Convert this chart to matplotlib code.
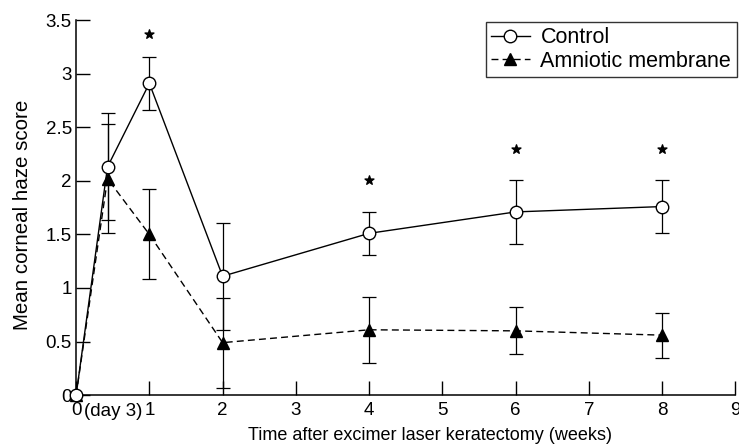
import numpy as np
import matplotlib.pyplot as plt

plt.rcParams['font.family'] = ['Liberation Sans', 'DejaVu Sans']

# weeks after surgery (day 3 = 3/7 week)
weeks = [0, 3 / 7, 1, 2, 4, 6, 8]
control = [0, 2.13, 2.91, 1.11, 1.51, 1.71, 1.76]
control_err = [0, 0.50, 0.25, 0.50, 0.20, 0.30, 0.25]
amnion = [0, 2.02, 1.50, 0.49, 0.61, 0.60, 0.56]
amnion_err = [0, 0.51, 0.42, 0.42, 0.31, 0.22, 0.21]
star_x = [1, 4, 6, 8]
star_y = [3.37, 2.01, 2.30, 2.30]

fig = plt.figure(figsize=(7.39, 4.47), dpi=100)
ax = fig.add_axes([0.103, 0.116, 0.892, 0.839])

ekw = dict(elinewidth=0.9, capsize=5, capthick=0.9, ecolor='black')
ax.errorbar(weeks[1:], amnion[1:], yerr=amnion_err[1:], fmt='none', **ekw)
ax.errorbar(weeks[1:], control[1:], yerr=control_err[1:], fmt='none', **ekw)

ax.plot(weeks, amnion, '--', color='black', lw=1.0, marker='^', ms=9,
        mfc='black', mec='black', dashes=(5, 3), label='Amniotic membrane',
        zorder=3, clip_on=False)
ax.plot(weeks, control, '-', color='black', lw=1.0, marker='o', ms=9,
        mfc='white', mec='black', mew=1.0, label='Control', zorder=4, clip_on=False)

ax.scatter(star_x, star_y, marker='*', s=45, color='black', zorder=5)

ax.set_xlim(0, 9)
ax.set_ylim(0, 3.5)
ax.set_xticks(range(10))
ax.set_yticks(np.arange(0, 3.51, 0.5))
ax.set_yticklabels(['0', '0.5', '1', '1.5', '2', '2.5', '3', '3.5'])
ax.tick_params(direction='in', length=10, width=1.0, labelsize=13.5)
ax.tick_params(axis='y', pad=3)
ax.tick_params(axis='x', pad=5)
for s in ['top', 'right']:
    ax.spines[s].set_visible(False)
for s in ['left', 'bottom']:
    ax.spines[s].set_linewidth(1.1)

ax.text(0.5, -0.022, '(day 3)', ha='center', va='top', fontsize=13.5,
        transform=ax.get_xaxis_transform())

ax.set_xlabel('Time after excimer laser keratectomy (weeks)', fontsize=13)
ax.xaxis.set_label_coords(0.537, -0.085)
ax.set_ylabel('Mean corneal haze score', fontsize=14.8)
ax.yaxis.set_label_coords(-0.067, 0.48)

h, l = ax.get_legend_handles_labels()
leg = ax.legend(h[::-1], l[::-1], loc='upper right', bbox_to_anchor=(1.002, 0.995),
                fontsize=15.5, frameon=True, fancybox=False, handlelength=1.8,
                borderpad=0.25, labelspacing=0.12, handletextpad=0.5, borderaxespad=0.0)
leg.get_frame().set_edgecolor('black')
leg.get_frame().set_linewidth(1.0)

fig.savefig('out.png', dpi=100)
